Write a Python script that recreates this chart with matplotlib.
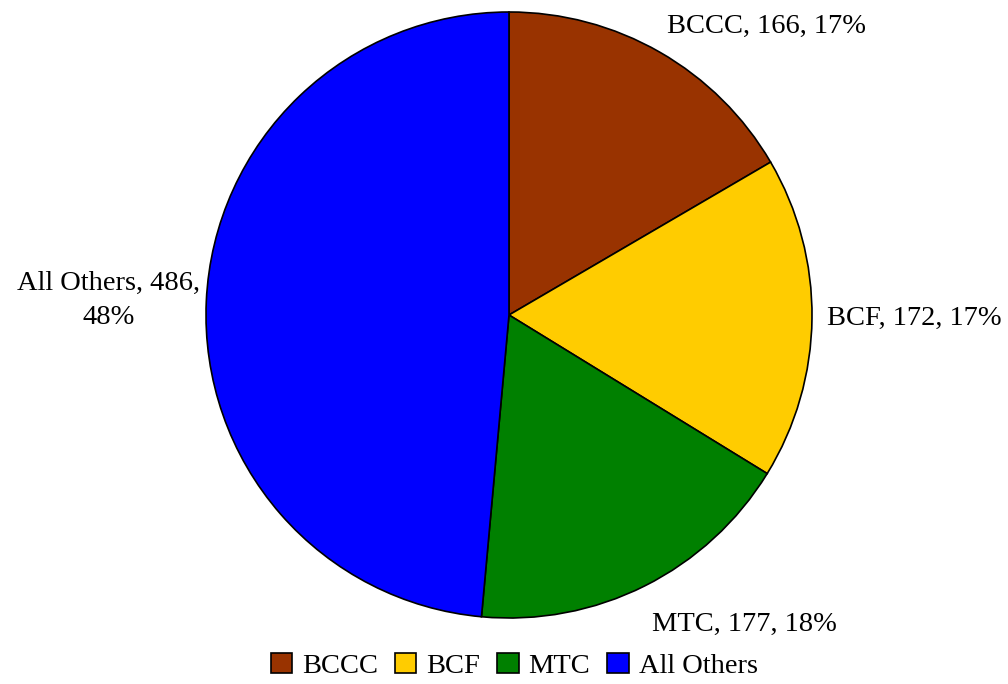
import numpy as np
import matplotlib.pyplot as plt

categories = ["BCCC", "BCF", "MTC", "All Others"]
counts = [166, 172, 177, 486]
percents = ["17%", "17%", "18%", "48%"]
colors = ["#993300", "#FFCC00", "#008000", "#0000FF"]

plt.rcParams["font.family"] = ["Liberation Serif", "DejaVu Serif"]

fig = plt.figure(figsize=(10.08, 6.84), dpi=100)
w = 606 / 1008
h = 606 / 684
cx = 509 / 1008
cy = 1 - 315 / 684
ax = fig.add_axes([cx - w / 2, cy - h / 2, w, h])

wedges, _ = ax.pie(
    counts,
    colors=colors,
    startangle=90,
    counterclock=False,
    wedgeprops=dict(edgecolor="black", linewidth=1.2),
)
ax.set_aspect("equal")
ax.set_xlim(-1, 1)
ax.set_ylim(-1, 1)

for wdg, cat, n, p in zip(wedges, categories, counts, percents):
    mid = np.deg2rad((wdg.theta1 + wdg.theta2) / 2)
    x, y = 1.05 * np.cos(mid), 1.05 * np.sin(mid)
    ha = "left" if x > 0 else "right"
    if y > 0.5:
        va = "bottom"
    elif y < -0.5:
        va = "top"
        y -= 0.04
    else:
        va = "center"
    if cat == "All Others":
        txt = f"{cat}, {n},\n{p}"
        x += 0.03
    else:
        txt = f"{cat}, {n}, {p}"
    ax.text(x, y, txt, ha=ha, va=va, ma="center", fontsize=20.5,
            linespacing=1.45, clip_on=False)

fig.legend(
    wedges,
    categories,
    loc="lower center",
    bbox_to_anchor=(0.51, -0.03),
    ncol=4,
    frameon=False,
    fontsize=20.5,
    handlelength=0.75,
    handleheight=0.75,
    handletextpad=0.35,
    columnspacing=0.6,
)

fig.savefig("out.png", dpi=100)
